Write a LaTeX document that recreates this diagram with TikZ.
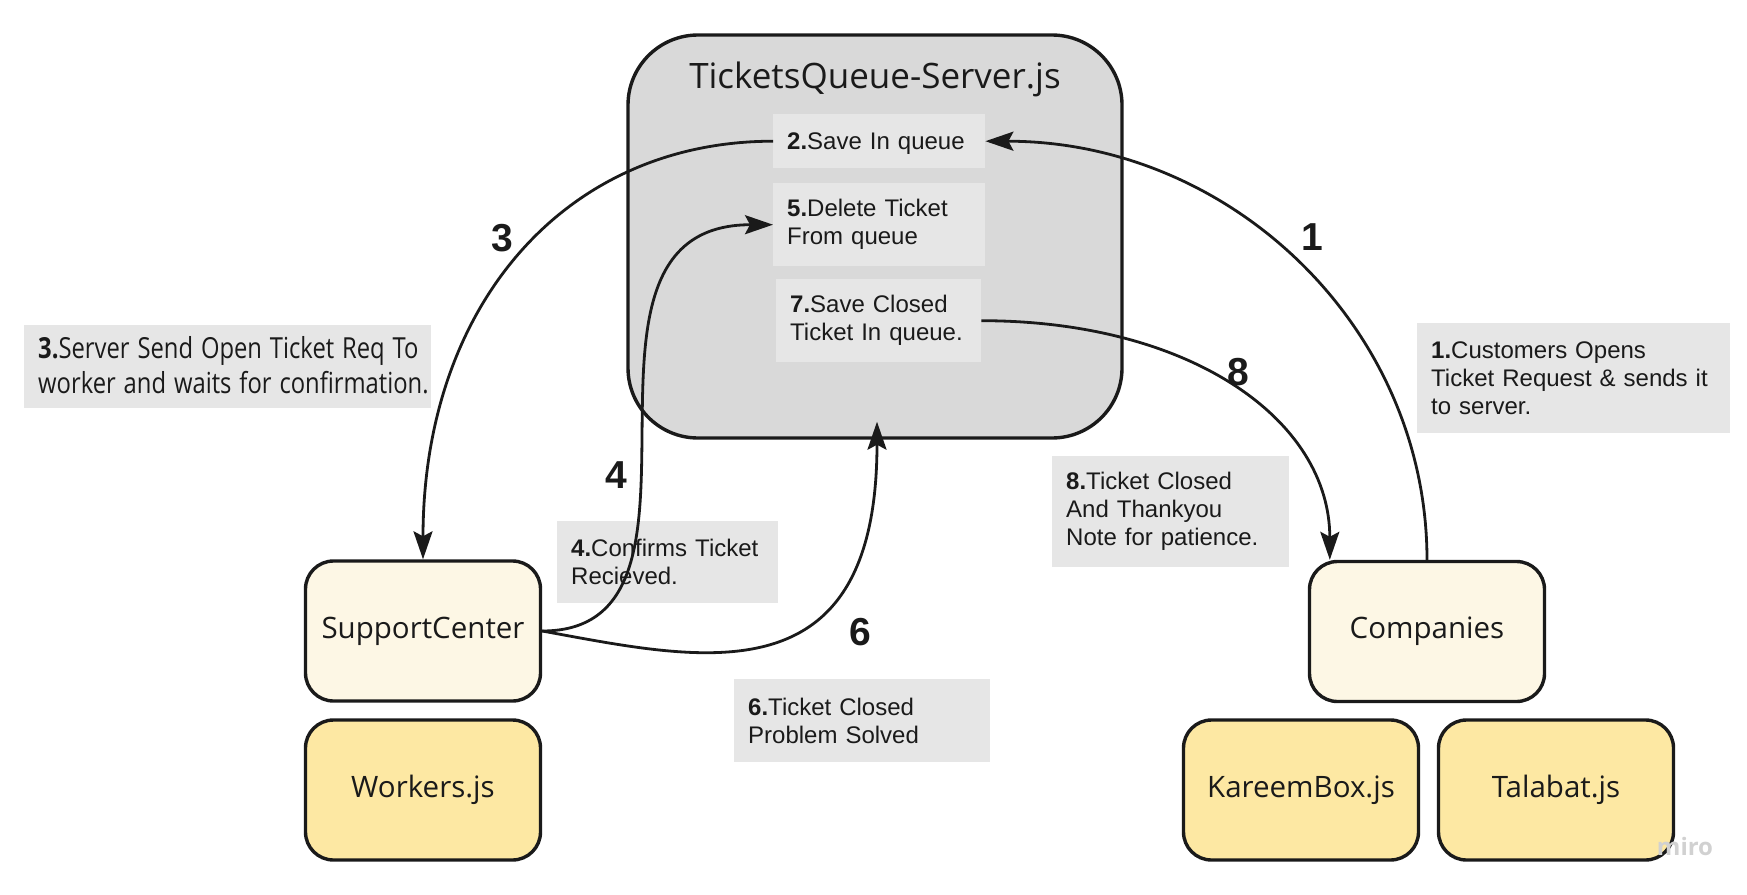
\documentclass[tikz,border=0pt]{standalone}
\usepackage{fontspec}
\usepackage{xcolor}
\usepackage{graphicx}
\setmainfont{Liberation Sans}
\newfontfamily\opensans{Open Sans}
\usetikzlibrary{calc}
\usetikzlibrary{arrows.meta}
\definecolor{ink}{HTML}{1A1A1A}
\definecolor{srvgrey}{HTML}{D9D9D9}
\definecolor{notegrey}{HTML}{E6E6E6}
\definecolor{cream}{HTML}{FDF7E5}
\definecolor{sand}{HTML}{FDE8A3}
\tikzset{
  every node/.style = {text=ink}
}
\tikzset{
    >={Stealth[length=28pt, width=19pt, inset=5pt]}
}
\tikzset{
  box/.style = {draw=ink, line width=3.4pt, rounded corners=28pt,
    minimum width=235pt, minimum height=140pt,
    font={\opensans\fontsize{29.5}{35}\selectfont}},
  client/.style = {box, fill=cream},
  module/.style = {box, fill=sand},
  note/.style = {fill=notegrey, anchor=north west, inner xsep=14pt,
    inner ysep=0pt, align=left, font={\fontsize{24}{28}\selectfont}},
  bignum/.style = {font={\fontsize{39}{39}\selectfont\bfseries}},
  flow/.style = {draw=ink, line width=2.8pt}
}

\begin{document}
\begin{tikzpicture}[x=1pt, y=-1pt]
\useasboundingbox (0,0) rectangle (1747,894);

% The server
\node[draw=ink, fill=srvgrey, line width=3.4pt, rounded corners=70pt,
  minimum width=494pt, minimum height=403pt] (srv) at (875,236.5) {};
\node[anchor=base, font={\opensans\fontsize{35}{40}\selectfont}] (srvtitle) at (875,88) {TicketsQueue-Server.js};
\node[note, text width=184pt, minimum height=54pt, text depth=0pt] (save) at (773,114) {\textbf{2.}Save In queue};
\node[note, text width=184pt, minimum height=83pt] (del) at (773,183) {\textbf{5.}Delete Ticket\\From queue};
\node[note, text width=177pt, minimum height=83pt] (closed) at (776,279) {\textbf{7.}Save Closed\\Ticket In queue.};

% Clients and modules
\node[client] (sc) at (423,631) {SupportCenter};
\node[module] (workers) at (423,790) {Workers.js};
\node[client] (comp) at (1427,631.5) {Companies};
\node[module] (kareem) at (1301,790) {KareemBox.js};
\node[module] (talabat) at (1556,790) {Talabat.js};

% Notes
\node[note, align=center, text width=379pt, minimum height=83pt,
  font={\opensans\fontsize{29}{35}\selectfont}] (n3) at (24,325)
  {\raisebox{4pt}{\scalebox{0.82}[1]{\textbf{3.}Server Send Open Ticket Req To}}\\\raisebox{4pt}{\scalebox{0.82}[1]{worker and waits for confirmation.}}};
\node[note, text width=193pt, minimum height=82pt] (n4) at (557,521) {\textbf{4.}Confirms Ticket\\Recieved.};
\node[note, text width=228pt, minimum height=83pt] (n6) at (734,679) {\textbf{6.}Ticket Closed\\Problem Solved};
\node[note, text width=209pt, minimum height=111pt] (n8) at (1052,456) {\textbf{8.}Ticket Closed\\And Thankyou\\Note for patience.};
\node[note, text width=285pt, minimum height=110pt] (n1) at (1417,323) {\textbf{1.}Customers Opens\\Ticket Request \& sends it\\to server.};

% Step numbers
\node[bignum] (d1) at (1312,237) {1};
\node[bignum] (d3) at (502,238) {3};
\node[bignum] (d4) at (616,475) {4};
\node[bignum] (d6) at (860,632) {6};
\node[bignum] (d8) at (1238,372) {8};

% Free ends
\coordinate (srvbot) at ([xshift=2pt, yshift=18pt]srv.south);
\coordinate (compin) at ([xshift=22pt]comp.north west);

% The arrows
\draw[flow, ->] (comp.north) .. controls +(0,-233) and +(245,0) .. (save.east);
\draw[flow, ->] (save.west) .. controls +(-209,0) and +(0,-253) .. (sc.north);
\draw[flow, ->] (sc.east) .. controls +(199,0) and +(-233,0) .. (del.west);
\draw[flow, ->] (sc.east) .. controls +(159,29) and +(0,280) .. (srvbot);
\draw[flow, ->] (closed.east) .. controls +(209,0) and +(0,-140) .. (compin);

\node[font={\opensans\bfseries\fontsize{24}{24}\selectfont}, text=black!18] (miro) at (1685,846) {miro};
\end{tikzpicture}
\end{document}
